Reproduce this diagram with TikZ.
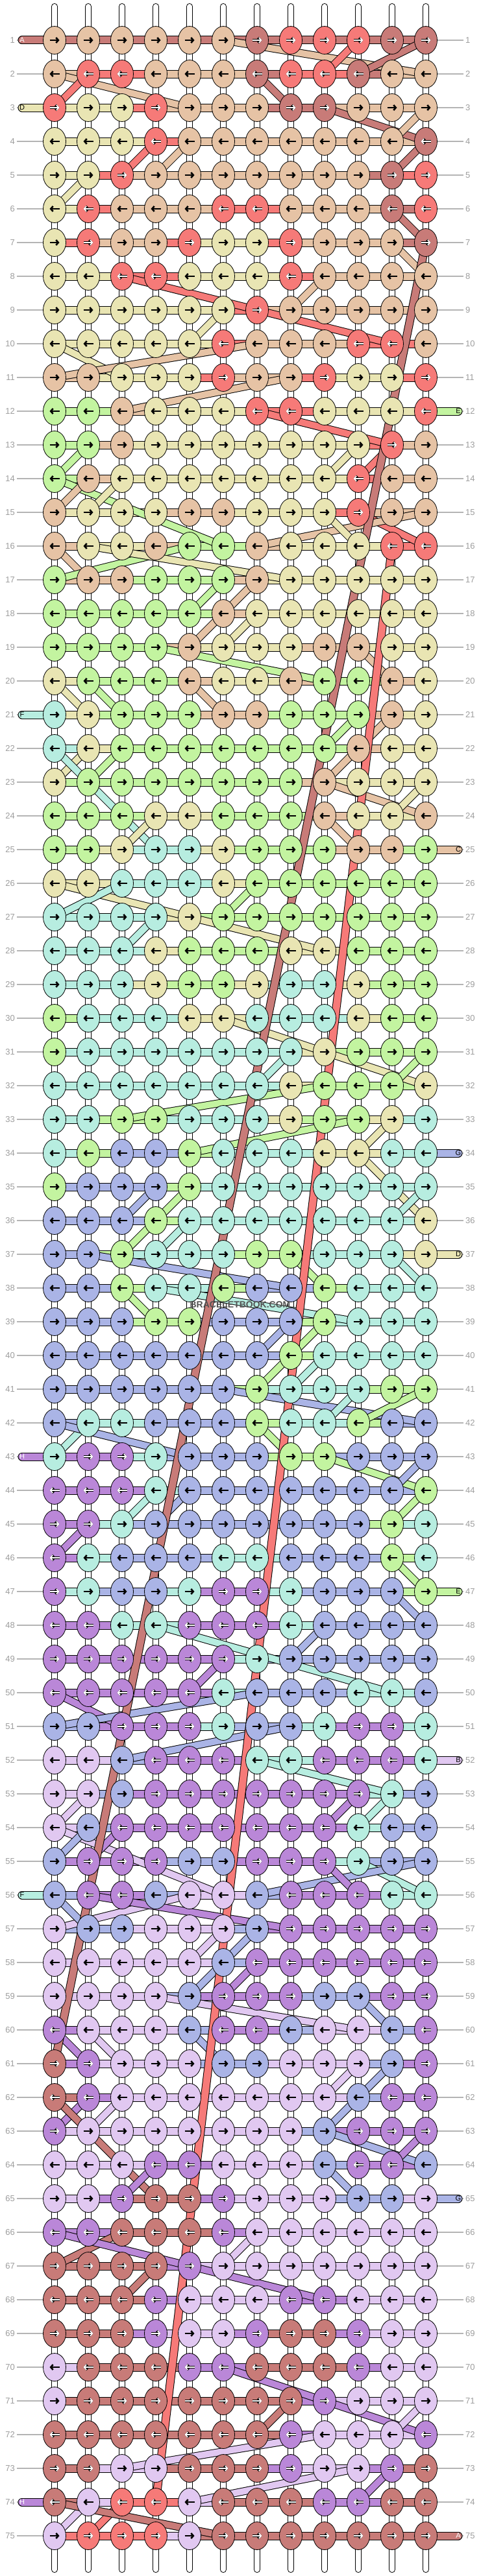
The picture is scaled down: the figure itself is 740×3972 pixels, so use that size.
\documentclass[tikz,border=0pt]{standalone}
\usepackage{fontspec}
\setmainfont{Liberation Sans}
\usetikzlibrary{arrows.meta,shapes.geometric}
\definecolor{knotA}{HTML}{C87B78}
\definecolor{knotR}{HTML}{F67A78}
\definecolor{knotC}{HTML}{E6C3A5}
\definecolor{knotD}{HTML}{E9E5B3}
\definecolor{knotE}{HTML}{C3F4A0}
\definecolor{knotF}{HTML}{B7EDE0}
\definecolor{knotG}{HTML}{AAB4E6}
\definecolor{knotH}{HTML}{BA87D8}
\definecolor{knotB}{HTML}{E1C8F1}
\definecolor{guidegray}{HTML}{B4B4B4}
% knot colours, one row per group
\def\knotrows{
{C,C,C,C,C,C,A,R,R,R,A,A},{C,R,R,C,C,C,A,R,R,A,C,C},{R,D,D,R,C,C,C,A,A,C,C,C},
{D,D,D,R,C,C,C,C,C,C,C,A},{D,D,R,C,C,C,C,C,C,C,A,R},{D,R,C,C,C,R,R,C,C,C,A,R},
{D,R,C,C,R,D,D,R,C,C,C,A},{D,D,R,R,D,D,D,R,C,C,C,C},{D,D,D,D,D,D,R,C,C,C,C,C},
{D,D,D,D,D,R,C,C,C,R,R,C},{C,C,D,D,D,R,C,C,R,D,D,R},{E,E,C,D,D,D,R,R,D,D,D,R},
{E,E,C,D,D,D,D,D,D,D,R,C},{E,C,D,D,D,D,D,D,D,R,C,C},{C,D,D,D,C,C,D,D,D,R,C,C},
{C,D,D,C,E,E,C,D,D,D,R,R},{E,C,C,E,E,E,C,D,D,D,D,D},{E,E,E,E,E,C,D,D,D,D,D,D},
{E,E,E,E,C,D,D,D,C,C,D,D},{D,E,E,E,C,D,D,C,E,E,C,D},{F,D,E,E,E,C,C,E,E,E,C,D},
{F,D,E,E,E,E,E,E,E,C,D,D},{D,E,E,E,E,E,E,E,C,D,D,D},{E,E,E,D,D,E,E,E,C,D,D,C},
{E,E,D,F,F,D,E,E,E,C,C,E},{D,D,F,F,F,D,E,E,E,E,E,E},{F,F,F,F,D,E,E,E,E,E,E,E},
{F,F,F,D,E,E,E,D,D,E,E,E},{F,F,F,D,E,E,D,F,F,D,E,E},{E,F,F,F,D,D,F,F,F,D,E,E},
{E,F,F,F,F,F,F,F,D,E,E,E},{F,F,F,F,F,F,F,D,E,E,E,D},{F,F,E,E,F,F,F,D,E,E,D,F},
{F,E,G,G,E,F,F,F,D,D,F,F},{E,G,G,G,E,F,F,F,F,F,F,F},{G,G,G,E,F,F,F,F,F,F,F,D},
{G,G,E,F,F,F,E,E,F,F,F,D},{G,G,E,F,F,E,G,G,E,F,F,F},{G,G,G,E,E,G,G,G,E,F,F,F},
{G,G,G,G,G,G,G,E,F,F,F,F},{G,G,G,G,G,G,E,F,F,F,E,E},{G,F,F,G,G,G,E,F,F,E,G,G},
{F,H,H,F,G,G,G,E,E,G,G,G},{H,H,H,F,G,G,G,G,G,G,G,E},{H,H,F,G,G,G,G,G,G,G,E,F},
{H,F,G,G,G,F,F,G,G,G,E,F},{H,F,G,G,F,H,H,F,G,G,G,E},{H,H,F,F,H,H,H,F,G,G,G,G},
{H,H,H,H,H,H,F,G,G,G,G,G},{H,H,H,H,H,F,G,G,G,F,F,G},{G,G,H,H,H,F,G,G,F,H,H,F},
{B,B,G,H,H,H,F,F,H,H,H,F},{B,B,G,H,H,H,H,H,H,H,F,G},{B,G,H,H,H,H,H,H,H,F,G,G},
{G,H,H,H,G,G,H,H,H,F,G,G},{G,H,H,G,B,B,G,H,H,H,F,F},{B,G,G,B,B,B,G,H,H,H,H,H},
{B,B,B,B,B,G,H,H,H,H,H,H},{B,B,B,B,G,H,H,H,G,G,H,H},{H,B,B,B,G,H,H,G,B,B,G,H},
{A,H,B,B,B,G,G,B,B,B,G,H},{A,H,B,B,B,B,B,B,B,G,H,H},{H,B,B,B,B,B,B,B,G,H,H,H},
{B,B,B,H,H,B,B,B,G,H,H,G},{B,B,H,A,A,H,B,B,B,G,G,B},{H,H,A,A,A,H,B,B,B,B,B,B},
{A,A,A,A,H,B,B,B,B,B,B,B},{A,A,A,H,B,B,B,H,H,B,B,B},{A,A,A,H,B,B,H,A,A,H,B,B},
{B,A,A,A,H,H,A,A,A,H,B,B},{B,A,A,A,A,A,A,A,H,B,B,B},{A,A,A,A,A,A,A,H,B,B,B,H},
{A,A,B,B,A,A,A,H,B,B,H,A},{A,B,R,R,B,A,A,A,H,H,A,A},{B,R,R,R,B,A,A,A,A,A,A,A}}

\begin{document}
\begin{tikzpicture}[x=1pt,y=-1pt,
knot/.style={ellipse,draw=black,line width=0.8pt,minimum width=35pt,minimum height=43pt,inner sep=0pt},
arr light/.style={draw=black,line width=2.6pt,-{Straight Barb[length=3.5pt,width=8pt]}},
arr dark/.style={draw=white,line width=1.7pt,-{Straight Barb[length=3.5pt,width=8pt]},
  preaction={draw=black,line width=3.7pt,-{Straight Barb[length=3.5pt,width=8pt]}}},
arr A/.style={arr dark},arr R/.style={arr dark},arr H/.style={arr dark},
arr B/.style={arr light},arr C/.style={arr light},arr D/.style={arr light},
arr E/.style={arr light},arr F/.style={arr light},arr G/.style={arr light},
band/.style={draw=knot#1,line width=11pt,preaction={draw=black,line width=13pt}},
cross/.style={draw=knot#1,line width=10pt,preaction={draw=black,line width=12pt}},
stub/.style={draw=knot#1,line width=11pt,line cap=round,preaction={draw=black,line width=13pt,line cap=round}},
thread/.style={draw=white,line width=8pt,line cap=round,preaction={draw=black,line width=10pt,line cap=round}},
guide/.style={draw=guidegray,line width=1.2pt},
rowlbl/.style={font=\fontsize{13}{13}\selectfont,text=black!38,inner sep=0pt},
stublbl/.style={font=\fontsize{11}{11}\selectfont,inner sep=0pt},
lt A/.style={text=white},lt H/.style={text=white},
lt B/.style={},lt C/.style={},lt D/.style={},lt E/.style={},lt F/.style={},lt G/.style={}]
\useasboundingbox (0,0) rectangle (740,3972);
\fill[white] (0,0) rectangle (740,3972);
% vertical base strings
\foreach \c in {1,...,12}{
  \pgfmathsetmacro\xpos{84+(\c-1)*52}
  \coordinate (top-\c) at (\xpos,10);
  \coordinate (bot-\c) at (\xpos,3962);
  \draw[thread] (top-\c) -- (bot-\c);
}
% knot places, guides and the row thread
\foreach \row [count=\r] in \knotrows {
  \pgfmathsetmacro\ypos{62+(\r-1)*52}
  \foreach \k [count=\c] in \row {
    \coordinate (p-\r-\c) at ({84+(\c-1)*52},\ypos);
    \ifnum\c>1
      \pgfmathtruncatemacro\cp{\c-1}
      \ifodd\r\relax\xdef\bandcol{\k}\else\xdef\bandcol{\prevk}\fi
      \draw[band=\bandcol] (p-\r-\cp) -- (p-\r-\c);
    \fi
    \xdef\prevk{\k}
  }
  \coordinate (gl-\r) at (26,\ypos);
  \coordinate (gr-\r) at (714,\ypos);
  \draw[guide] (gl-\r) -- (p-\r-1);
  \draw[guide] (p-\r-12) -- (gr-\r);
  \node[rowlbl,anchor=east] (ll-\r) at (23,\ypos) {\r};
  \node[rowlbl,anchor=west] (lr-\r) at (717,\ypos) {\r};
}
\draw[band=A] (p-1-1) -- (p-1-12);
% strings entering and leaving
\foreach \r/\sx/\c/\k in {1/34/1/A,3/34/1/D,12/706/12/E,21/34/1/F,25/706/12/C,
  34/706/12/G,37/706/12/D,43/34/1/H,47/706/12/E,52/706/12/B,56/34/1/F,
  65/706/12/G,74/34/1/H,75/706/12/A}{
  \pgfmathsetmacro\ypos{62+(\r-1)*52}
  \coordinate (st-\r) at (\sx,\ypos);
  \draw[stub=\k] (st-\r) -- (p-\r-\c);
  \node[stublbl,lt \k] (sl-\r) at (st-\r) {\k};
}
% strings changing rows
\foreach \ra/\ca/\rb/\cb/\k in {
  1/6/2/12/C,1/10/2/9/R,1/12/2/10/A,2/7/3/8/A,2/1/3/5/C,3/1/2/2/R,3/9/4/12/A,
  3/12/4/11/C,4/4/5/3/R,4/5/5/4/C,4/12/5/11/A,5/2/6/1/D,6/11/7/12/A,7/11/8/12/C,
  8/3/10/11/R,9/8/8/9/C,10/5/9/6/D,10/1/11/3/D,11/1/10/7/C,12/3/11/8/C,12/7/13/11/R,
  13/11/14/10/R,13/10/14/9/D,13/2/14/1/E,14/1/16/6/E,14/2/15/1/C,14/3/15/2/D,
  15/10/16/12/R,15/12/16/7/C,15/9/16/10/D,16/1/17/2/C,17/1/16/5/E,16/2/17/8/D,
  18/5/17/6/E,18/6/17/7/C,18/6/19/5/C,18/7/19/6/D,19/4/20/9/E,19/10/20/11/C,
  20/5/21/6/C,20/1/21/2/D,20/2/21/3/E,21/10/22/9/E,21/11/22/10/C,22/2/23/1/D,
  22/3/23/2/E,22/1/25/4/F,22/10/23/9/C,23/9/24/12/C,23/12/24/11/D,24/9/25/10/C,
  24/4/25/3/D,26/1/27/5/D,27/1/26/3/F,27/6/26/7/E,27/4/28/3/F,27/5/28/9/D,
  30/6/31/9/D,31/9/32/12/D,32/11/31/12/E,32/7/31/8/F,33/3/32/9/E,34/5/33/10/E,
  34/10/33/11/D,34/10/36/12/D,36/3/35/4/G,37/3/35/5/E,37/4/36/5/F,36/11/35/12/F,
  37/2/38/8/G,37/8/38/9/E,37/11/38/12/F,38/3/39/4/E,38/4/39/10/F,40/7/39/8/G,
  40/8/39/9/E,41/7/40/8/E,41/8/40/9/F,41/6/42/12/G,42/9/41/10/F,42/10/41/12/E,
  43/1/42/2/F,42/1/43/5/G,42/7/43/8/E,43/9/44/12/E,44/11/43/12/G,45/3/44/4/F,
  45/4/44/5/G,45/11/44/12/E,46/1/45/2/H,46/11/47/12/E,47/11/48/12/G,48/4/50/11/F,
  49/8/48/9/G,50/5/49/6/H,50/1/51/3/H,51/1/50/7/G,52/3/51/8/G,52/7/53/11/F,
  54/9/53/10/H,54/10/53/11/F,54/1/53/2/B,54/1/56/6/B,55/1/54/2/G,55/2/54/3/H,
  55/10/56/12/F,56/7/55/12/G,55/9/56/10/H,57/1/56/5/B,56/2/57/8/H,56/1/57/2/G,
  58/5/57/6/B,58/6/57/7/G,58/6/59/5/G,58/7/59/6/H,59/4/60/10/B,59/10/60/11/G,
  60/1/61/2/H,60/2/61/3/B,60/5/61/6/G,61/10/62/9/B,61/11/62/10/G,62/2/63/1/H,
  62/3/63/2/B,62/1/65/4/A,62/10/63/9/G,63/9/64/12/G,64/11/63/12/H,65/3/64/4/H,
  64/9/65/10/G,66/3/67/1/A,66/1/67/5/H,67/6/66/7/B,68/3/67/4/A,67/5/68/9/H,
  70/6/71/9/H,71/9/72/12/H,72/11/71/12/B,72/7/71/8/A,73/3/72/9/B,74/5/73/10/B,
  74/10/73/11/H,75/1/74/2/B,75/2/74/3/R,74/1/75/6/A}{
  \draw[cross=\k] (p-\ra-\ca) -- (p-\rb-\cb);
}
% long threads
\draw[band=A] (p-7-12) -- (p-61-1);
\draw[band=R] (p-16-11) -- (p-74-4);
% knots
\foreach \row [count=\r] in \knotrows {
  \ifodd\r\relax\def\dir{1}\else\def\dir{-1}\fi
  \foreach \k [count=\c] in \row {
    \node[knot,fill=knot\k] (k-\r-\c) at (p-\r-\c) {};
    \draw[arr \k] ([xshift={-7.5*\dir}]k-\r-\c.center) -- ([xshift={7.5*\dir}]k-\r-\c.center);
  }
}
\node[font=\bfseries\fontsize{14}{14}\selectfont,text=black!68] (wm) at (370,2012) {BRACELETBOOK.COM};
\end{tikzpicture}
\end{document}
